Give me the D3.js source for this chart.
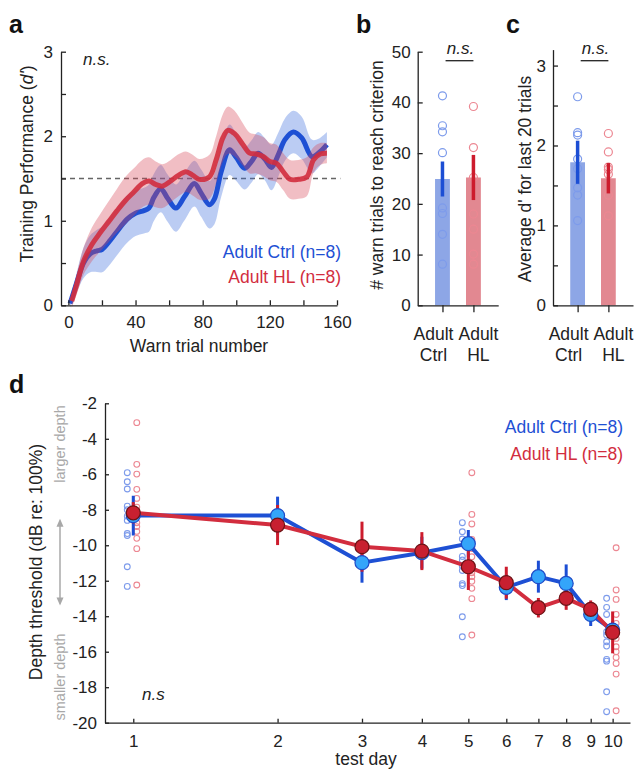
<!DOCTYPE html>
<html>
<head>
<meta charset="utf-8">
<script src="https://cdn.jsdelivr.net/npm/d3@7"></script>
<style>
  html, body { margin: 0; padding: 0; background: #fff; }
  svg { display: block; font-family: "Liberation Sans", Arial, Helvetica, sans-serif; }
  .axis path, .axis line { stroke: #222; stroke-width: 1.3; }
  .axis text { font-size: 17px; fill: #222; font-family: "Liberation Sans", Arial, sans-serif; }
</style>
</head>
<body>
<svg id="fig" width="637" height="771"></svg>
<script>
// ---------- Panel a: training performance (d') vs warn trial ----------
const ctrlTrialX = [1,5,9,13,17,20,25,30,35,40,45,48,51,55,59,64,69,75,79,84,87,91,96,100,105,109,113,117,121,125,129,134,139,145,149,154];
const ctrlDprime = [0.02,0.27,0.50,0.61,0.645,0.66,0.77,0.90,1.02,1.09,1.12,1.15,1.28,1.38,1.27,1.15,1.28,1.44,1.33,1.19,1.26,1.58,1.84,1.75,1.62,1.70,1.80,1.73,1.63,1.78,1.96,2.05,1.98,1.76,1.80,1.90];
const ctrlDprimeSem = [0.05,0.12,0.18,0.22,0.25,0.27,0.28,0.28,0.28,0.27,0.27,0.28,0.28,0.28,0.28,0.28,0.28,0.27,0.28,0.28,0.30,0.30,0.30,0.28,0.25,0.25,0.25,0.25,0.27,0.26,0.25,0.25,0.25,0.20,0.17,0.15];

const hlTrialX = [2,5,9,14,19,24,29,34,39,44,48,52,56,61,65,70,74,78,84,88,92,95,99,104,108,112,116,120,124,128,132,137,142,146,150,154];
const hlDprime = [0.05,0.25,0.52,0.72,0.86,0.99,1.12,1.24,1.34,1.44,1.47,1.43,1.41,1.47,1.53,1.58,1.54,1.49,1.52,1.72,1.98,2.07,2.03,1.90,1.80,1.79,1.76,1.70,1.68,1.58,1.49,1.49,1.52,1.72,1.79,1.80];
const hlDprimeSem = [0.08,0.12,0.16,0.20,0.22,0.24,0.26,0.28,0.28,0.28,0.28,0.27,0.26,0.25,0.25,0.24,0.24,0.24,0.26,0.28,0.28,0.28,0.27,0.25,0.24,0.23,0.23,0.22,0.22,0.22,0.23,0.23,0.23,0.15,0.13,0.12];

const criterionDprime = 1.5;
const aXTicks = [0,20,40,60,80,100,120,140,160];
const aYTicks = [0,0.5,1,1.5,2,2.5,3];

// ---------- Panels b, c: group summaries ----------
const groupNames = [["Adult", "Ctrl"], ["Adult", "HL"]];
const trialsMean = [24.9, 25.2];
const trialsSem = [3.45, 4.45];
const trialsCtrl = [41.3, 35.4, 34.2, 30.1, 19.2, 18.1, 14.0, 8.1];
const trialsHL = [39.2, 31.1, 25.2, 18.0, 15.0, 10.1, 8.1];
const bYTicks = [0,10,20,30,40,50];

const lastDMean = [1.79, 1.59];
const lastDSem = [0.27, 0.19];
const lastDCtrl = [2.61, 2.16, 2.13, 1.83, 1.71, 1.47, 1.38, 1.06];
const lastDHL = [2.15, 1.92, 1.73, 1.70, 1.64, 1.38, 1.12];
const cYTicks = [0,0.5,1,1.5,2,2.5,3];

// ---------- Panel d: depth threshold across test days ----------
const testDays = [1,2,3,4,5,6,7,8,9,10];
const ctrlThreshold = [-8.33,-8.33,-10.98,-10.42,-9.91,-12.37,-11.77,-12.15,-13.90,-14.78];
const ctrlThresholdSem = [1.12,1.07,1.13,0.90,0.77,0.72,0.90,1.07,0.65,0.50];
const hlThreshold = [-8.17,-8.86,-10.08,-10.33,-11.21,-12.11,-13.52,-12.99,-13.61,-14.91];
const hlThresholdSem = [0.60,1.13,1.41,1.07,1.31,0.90,0.55,0.65,0.50,1.18];

const dotDays = [1, 5, 10];
const ctrlDotsByDay = [
  [-5.91,-6.42,-6.83,-7.80,-8.00,-8.36,-8.60,-9.34,-9.45,-11.21,-12.32],
  [-8.73,-9.24,-9.65,-10.63,-10.83,-11.18,-11.42,-12.16,-12.27,-14.03,-15.16],
  [-12.99,-13.50,-13.90,-14.87,-15.06,-15.44,-15.68,-16.43,-16.53,-18.26,-19.38]
];
const hlDotsByDay = [
  [-3.09,-5.44,-5.99,-6.85,-7.36,-7.85,-8.31,-8.73,-8.95,-9.22,-9.61,-10.19,-12.24],
  [-5.91,-8.26,-8.80,-9.67,-10.18,-10.65,-11.12,-11.55,-11.77,-12.03,-12.43,-13.01,-15.06],
  [-10.14,-12.52,-13.05,-13.90,-14.40,-14.87,-15.25,-15.72,-16.00,-16.32,-16.66,-17.26,-19.33]
];
const dYTicks = [-20,-18,-16,-14,-12,-10,-8,-6,-4,-2];

// ---------- colours ----------
const C = {
  blue: "rgb(30,80,212)",
  red: "rgb(210,45,62)",
  blueBand: "rgb(60,110,220)",
  redBand: "rgb(215,70,85)",
  blueBar: "rgb(141,166,230)",
  redBar: "rgb(226,136,145)",
  blueDot: "rgb(125,155,235)",
  redDot: "rgb(236,135,146)",
  blueErr: "rgb(28,78,212)",
  redErr: "rgb(205,28,45)",
  blueMarker: "rgb(52,165,250)",
  blueMarkerEdge: "rgb(30,75,200)",
  redMarker: "rgb(200,32,48)",
  redMarkerEdge: "rgb(110,18,22)",
  ink: "#222",
  grey: "#a8a8a8"
};

const svg = d3.select("#fig");

function panelLetter(x, y, t) {
  svg.append("text").attr("x", x).attr("y", y).text(t)
    .attr("font-size", 25).attr("font-weight", "bold").attr("fill", "#111");
}
function styleAxis(g) {
  g.attr("class", "axis");
  g.select(".domain").attr("stroke", C.ink).attr("stroke-width", 1.3);
}

// ======================= Panel a =======================
{
  const x = d3.scaleLinear().domain([-4.4, 160]).range([61, 337]);
  const y = d3.scaleLinear().domain([0, 3]).range([305.3, 51.7]);
  const g = svg.append("g");

  const band = (xs, m, s) => d3.area()
    .x((d, i) => x(xs[i])).y0((d, i) => y(m[i] - s[i])).y1((d, i) => y(m[i] + s[i]))
    .curve(d3.curveCatmullRom.alpha(0.5))(m);
  const line = (xs, m) => d3.line()
    .x((d, i) => x(xs[i])).y(d => y(d))
    .curve(d3.curveCatmullRom.alpha(0.5))(m);

  // criterion line
  g.append("line").attr("x1", x(-4.4)).attr("x2", x(162)).attr("y1", y(criterionDprime)).attr("y2", y(criterionDprime))
    .attr("stroke", "#666").attr("stroke-width", 1.3).attr("stroke-dasharray", "5,4");

  g.append("path").attr("d", band(ctrlTrialX, ctrlDprime, ctrlDprimeSem)).attr("fill", C.blueBand).attr("fill-opacity", 0.35);
  g.append("path").attr("d", line(ctrlTrialX, ctrlDprime)).attr("fill", "none").attr("stroke", C.blue).attr("stroke-width", 5).attr("stroke-linejoin", "round");
  g.append("path").attr("d", band(hlTrialX, hlDprime, hlDprimeSem)).attr("fill", C.redBand).attr("fill-opacity", 0.35);
  g.append("path").attr("d", line(hlTrialX, hlDprime)).attr("fill", "none").attr("stroke", C.red).attr("stroke-width", 5).attr("stroke-opacity", 0.9).attr("stroke-linejoin", "round");

  const xa = g.append("g").attr("transform", `translate(0,${y(0)})`)
    .call(d3.axisBottom(x).tickValues(aXTicks).tickSizeInner(-5).tickSizeOuter(0).tickPadding(11)
      .tickFormat(d => d % 40 === 0 ? d : ""));
  styleAxis(xa);
  const ya = g.append("g").attr("transform", `translate(${x(-4.4)},0)`)
    .call(d3.axisLeft(y).tickValues(aYTicks).tickSizeInner(-5).tickSizeOuter(0).tickPadding(8)
      .tickFormat(d => Number.isInteger(d) ? d : ""));
  styleAxis(ya);

  g.append("text").attr("x", 199).attr("y", 352).attr("text-anchor", "middle")
    .attr("font-size", 17.5).attr("fill", C.ink).text("Warn trial number");
  const yl = g.append("text").attr("transform", "translate(33,164) rotate(-90)")
    .attr("text-anchor", "middle").attr("font-size", 17.5).attr("fill", C.ink);
  yl.append("tspan").text("Training Performance (");
  yl.append("tspan").attr("font-style", "italic").text("d'");
  yl.append("tspan").text(")");

  g.append("text").attr("x", 83).attr("y", 65).attr("font-style", "italic").attr("font-size", 17).attr("fill", C.ink).text("n.s.");
  g.append("text").attr("x", 341).attr("y", 258).attr("text-anchor", "end").attr("font-size", 17.5).attr("fill", C.blue).text("Adult Ctrl (n=8)");
  g.append("text").attr("x", 341).attr("y", 282.5).attr("text-anchor", "end").attr("font-size", 17.5).attr("fill", C.red).text("Adult HL (n=8)");
  panelLetter(9, 33, "a");
}

// ======================= Panels b & c =======================
function barPanel(opts) {
  const x = d3.scaleLinear().domain([0.2, 2.8]).range(opts.xRange);
  const y = d3.scaleLinear().domain(opts.yDomain).range([305.3, opts.yTopPx]);
  const g = svg.append("g");
  const means = opts.means, sems = opts.sems;
  const barFill = [C.blueBar, C.redBar], errCol = [C.blueErr, C.redErr], dotCol = [C.blueDot, C.redDot];
  const cats = [1, 2];

  g.selectAll("rect.bar").data(means).join("rect")
    .attr("x", (d, i) => x(cats[i] - 0.24)).attr("width", x(1.24) - x(0.76))
    .attr("y", d => y(d)).attr("height", d => y(0) - y(d))
    .attr("fill", (d, i) => barFill[i]);

  [opts.ctrlDots, opts.hlDots].forEach((vals, i) => {
    g.selectAll(null).data(vals).join("circle")
      .attr("cx", x(cats[i])).attr("cy", d => y(d)).attr("r", 4)
      .attr("fill", "none").attr("stroke", dotCol[i]).attr("stroke-width", 1.2);
  });

  g.selectAll("line.err").data(means).join("line")
    .attr("x1", (d, i) => x(cats[i])).attr("x2", (d, i) => x(cats[i]))
    .attr("y1", (d, i) => y(d - sems[i])).attr("y2", (d, i) => y(d + sems[i]))
    .attr("stroke", (d, i) => errCol[i]).attr("stroke-width", 3.5);

  const ya = g.append("g").attr("transform", `translate(${x(0.2)},0)`)
    .call(d3.axisLeft(y).tickValues(opts.yTicks).tickSizeInner(-5).tickSizeOuter(0).tickPadding(7)
      .tickFormat(d => Number.isInteger(d) ? d : ""));
  styleAxis(ya);
  const xa = g.append("g").attr("transform", `translate(0,${y(0)})`)
    .call(d3.axisBottom(x).tickValues(cats).tickSizeInner(7).tickSizeOuter(0).tickFormat(""));
  styleAxis(xa);

  // two-line category labels
  const labelShift = [-9, 5];
  groupNames.forEach((lines, i) => {
    lines.forEach((t, k) => {
      g.append("text").attr("x", x(cats[i]) + labelShift[i]).attr("y", 339.5 + k * 21.5)
        .attr("text-anchor", "middle").attr("font-size", 17.5).attr("fill", C.ink).text(t);
    });
  });

  // significance bracket
  g.append("line").attr("x1", x(1.1)).attr("x2", x(2)).attr("y1", 60.7).attr("y2", 60.7)
    .attr("stroke", C.ink).attr("stroke-width", 1.3);
  g.append("text").attr("x", (x(1.1) + x(2)) / 2 + 1).attr("y", 54).attr("text-anchor", "middle")
    .attr("font-style", "italic").attr("font-size", 17).attr("fill", C.ink).text("n.s.");

  g.append("text").attr("transform", `translate(${opts.yLabelX},${opts.yLabelY}) rotate(-90)`)
    .attr("text-anchor", "middle").attr("font-size", 17.5).attr("fill", C.ink).text(opts.yLabel);
  panelLetter(opts.letterX, 33, opts.letter);
}

barPanel({
  xRange: [417.7, 498.2], yDomain: [0, 50], yTopPx: 51.7, yTicks: bYTicks,
  means: trialsMean, sems: trialsSem, ctrlDots: trialsCtrl, hlDots: trialsHL,
  yLabel: "# warn trials to reach criterion", yLabelX: 383, yLabelY: 175,
  letter: "b", letterX: 356
});
barPanel({
  xRange: [553, 633], yDomain: [0, 3.2], yTopPx: 49.6, yTicks: cYTicks,
  means: lastDMean, sems: lastDSem, ctrlDots: lastDCtrl, hlDots: lastDHL,
  yLabel: "Average d' for last 20 trials", yLabelX: 531, yLabelY: 179,
  letter: "c", letterX: 506
});

// ======================= Panel d =======================
{
  const x = d3.scaleLog().domain([0.873, 10.87]).range([105, 630]);
  const y = d3.scaleLinear().domain([-20, -2]).range([722.7, 403.3]);
  const g = svg.append("g");

  // individual thresholds at selected days (open circles, offset left/right)
  dotDays.forEach((day, j) => {
    g.selectAll(null).data(ctrlDotsByDay[j]).join("circle")
      .attr("cx", x(day) - 6).attr("cy", d => y(d)).attr("r", 2.9)
      .attr("fill", "none").attr("stroke", C.blueDot).attr("stroke-width", 1.1);
    g.selectAll(null).data(hlDotsByDay[j]).join("circle")
      .attr("cx", x(day) + 3.5).attr("cy", d => y(d)).attr("r", 2.9)
      .attr("fill", "none").attr("stroke", C.redDot).attr("stroke-width", 1.1);
  });

  const lineGen = d3.line().x((d, i) => x(testDays[i])).y(d => y(d));
  g.append("path").attr("d", lineGen(ctrlThreshold)).attr("fill", "none")
    .attr("stroke", C.blue).attr("stroke-width", 4).attr("stroke-linejoin", "round");
  g.append("path").attr("d", lineGen(hlThreshold)).attr("fill", "none")
    .attr("stroke", C.red).attr("stroke-width", 4).attr("stroke-linejoin", "round");

  const errBars = (vals, sems, col) => g.selectAll(null).data(vals).join("line")
    .attr("x1", (d, i) => x(testDays[i])).attr("x2", (d, i) => x(testDays[i]))
    .attr("y1", (d, i) => y(d - sems[i])).attr("y2", (d, i) => y(d + sems[i]))
    .attr("stroke", col).attr("stroke-width", 3);
  errBars(ctrlThreshold, ctrlThresholdSem, C.blueErr);
  errBars(hlThreshold, hlThresholdSem, C.redErr);

  const markers = (vals, fill, edge) => g.selectAll(null).data(vals).join("circle")
    .attr("cx", (d, i) => x(testDays[i])).attr("cy", d => y(d)).attr("r", 7)
    .attr("fill", fill).attr("stroke", edge).attr("stroke-width", 1.2);
  markers(ctrlThreshold, C.blueMarker, C.blueMarkerEdge);
  markers(hlThreshold, C.redMarker, C.redMarkerEdge);

  const ya = g.append("g").attr("transform", `translate(${x(0.873)},0)`)
    .call(d3.axisLeft(y).tickValues(dYTicks).tickSizeInner(-4).tickSizeOuter(0).tickPadding(8).tickFormat(d3.format("d")));
  styleAxis(ya);
  const xa = g.append("g").attr("transform", `translate(0,${y(-20)})`)
    .call(d3.axisBottom(x).tickValues(testDays).tickSizeInner(-4).tickSizeOuter(0).tickPadding(12).tickFormat(d3.format("d")));
  styleAxis(xa);
  // the log axis reads "-20" etc. with a plain hyphen
  ya.selectAll("text").text(d => String(d));

  g.append("text").attr("x", 366).attr("y", 765).attr("text-anchor", "middle")
    .attr("font-size", 17.5).attr("fill", C.ink).text("test day");
  g.append("text").attr("transform", "translate(42,562) rotate(-90)")
    .attr("text-anchor", "middle").attr("font-size", 17.5).attr("fill", C.ink).text("Depth threshold (dB re: 100%)");

  // direction annotation
  g.append("text").attr("transform", "translate(65,444) rotate(-90)").attr("text-anchor", "middle")
    .attr("font-size", 14.5).attr("fill", C.grey).text("larger depth");
  g.append("text").attr("transform", "translate(65,677) rotate(-90)").attr("text-anchor", "middle")
    .attr("font-size", 14.5).attr("fill", C.grey).text("smaller depth");
  const ay1 = y(-8.5), ay2 = y(-13.4), ax = 60;
  g.append("line").attr("x1", ax).attr("x2", ax).attr("y1", ay1 + 2).attr("y2", ay2 - 2)
    .attr("stroke", C.grey).attr("stroke-width", 1.5);
  g.append("path").attr("d", `M${ax - 3.5},${ay1 + 8}L${ax},${ay1}L${ax + 3.5},${ay1 + 8}Z`).attr("fill", C.grey);
  g.append("path").attr("d", `M${ax - 3.5},${ay2 - 8}L${ax},${ay2}L${ax + 3.5},${ay2 - 8}Z`).attr("fill", C.grey);

  g.append("text").attr("x", 142).attr("y", 700).attr("font-style", "italic").attr("font-size", 17).attr("fill", C.ink).text("n.s");
  g.append("text").attr("x", 623).attr("y", 433.3).attr("text-anchor", "end").attr("font-size", 17.5).attr("fill", C.blue).text("Adult Ctrl (n=8)");
  g.append("text").attr("x", 623).attr("y", 459.5).attr("text-anchor", "end").attr("font-size", 17.5).attr("fill", C.red).text("Adult HL (n=8)");
  panelLetter(9, 393, "d");
}
</script>
</body>
</html>
